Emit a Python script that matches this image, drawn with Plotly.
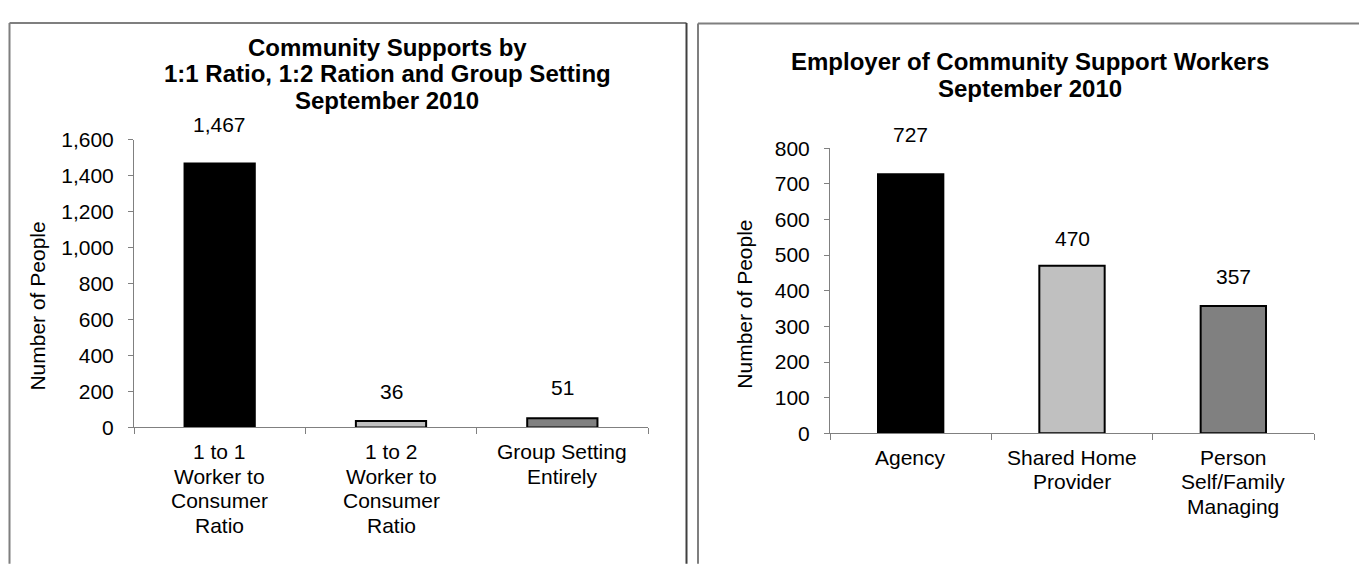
import plotly.graph_objects as go

W, H = 1359, 569

# ---------------- data ----------------
left_categories = ["1 to 1 Worker to Consumer Ratio",
                   "1 to 2 Worker to Consumer Ratio",
                   "Group Setting Entirely"]
left_tick_labels = ["1 to 1<br>Worker to<br>Consumer<br>Ratio",
                    "1 to 2<br>Worker to<br>Consumer<br>Ratio",
                    "Group Setting<br>Entirely"]
left_values = [1467, 36, 51]
left_y_ticks = [0, 200, 400, 600, 800, 1000, 1200, 1400, 1600]

right_categories = ["Agency", "Shared Home Provider", "Person Self/Family Managing"]
right_tick_labels = ["Agency", "Shared Home<br>Provider", "Person<br>Self/Family<br>Managing"]
right_values = [727, 470, 357]
right_y_ticks = [0, 100, 200, 300, 400, 500, 600, 700, 800]

left_title_lines = ["Community Supports by",
                    "1:1 Ratio, 1:2 Ration and Group Setting",
                    "September 2010"]
right_title_lines = ["Employer of Community Support Workers",
                     "September 2010"]
y_title = "Number of People"

# ---------------- styles ----------------
bar_colors = ["#000000", "#C0C0C0", "#808080"]
FONT = "Liberation Sans, Arial, sans-serif"
AXIS_COL = "#808080"
TXT = 21            # regular text size (px)
TITLE = 24          # title size (px)
LINE_H = 24.7       # Excel-like line spacing for category labels
TITLE_LINE_H = 27.6
left_label_gap = [26, 16, 17]
right_label_gap = [26, 14, 16]


def px_x(x):
    return x / W


def px_y(y):
    return 1 - y / H


fig = go.Figure()
fig.add_trace(go.Bar(x=left_categories, y=left_values, width=0.41,
                     marker=dict(color=bar_colors, line=dict(color="#000000", width=2)),
                     xaxis="x", yaxis="y", hoverinfo="x+y"))
fig.add_trace(go.Bar(x=right_categories, y=right_values, width=0.405,
                     marker=dict(color=bar_colors, line=dict(color="#000000", width=2)),
                     xaxis="x2", yaxis="y2", hoverinfo="x+y"))

common_x = dict(type="category", tickson="boundaries", ticks="outside", ticklen=6,
                tickcolor=AXIS_COL, showline=True, linecolor=AXIS_COL, linewidth=1,
                showgrid=False, zeroline=False, range=[-0.5, 2.5], showticklabels=False)
common_y = dict(ticks="outside", ticklen=5, tickcolor=AXIS_COL, showline=True,
                linecolor=AXIS_COL, linewidth=1, showgrid=False, zeroline=False,
                tickformat=",d", ticklabelstandoff=10,
                tickfont=dict(family=FONT, size=TXT, color="#000000"))

fig.update_layout(
    width=W, height=H, autosize=False,
    margin=dict(l=0, r=0, t=0, b=0),
    paper_bgcolor="white", plot_bgcolor="white", showlegend=False,
    font=dict(family=FONT, color="#000000"),
    xaxis=dict(common_x, domain=[px_x(134), px_x(648)], anchor="y",
               categoryorder="array", categoryarray=left_categories),
    yaxis=dict(common_y, domain=[px_y(433), px_y(133)], anchor="x",
               range=[0, left_y_ticks[-1]], tickvals=left_y_ticks),
    xaxis2=dict(common_x, domain=[px_x(830), px_x(1314)], anchor="y2",
                categoryorder="array", categoryarray=right_categories),
    yaxis2=dict(common_y, domain=[px_y(439), px_y(142)], anchor="x2",
                range=[0, right_y_ticks[-1]], tickvals=right_y_ticks),
)

annotations = []
# data labels
for cat, v, g in zip(left_categories, left_values, left_label_gap):
    annotations.append(dict(x=cat, y=v, xref="x", yref="y", text=f"{v:,}", showarrow=False,
                            yanchor="bottom", yshift=g, font=dict(family=FONT, size=TXT)))
for cat, v, g in zip(right_categories, right_values, right_label_gap):
    annotations.append(dict(x=cat, y=v, xref="x2", yref="y2", text=f"{v:,}", showarrow=False,
                            yanchor="bottom", yshift=g, font=dict(family=FONT, size=TXT)))

# category labels (one annotation per line, Excel-like tight line spacing)
for cats, labels, xr, yr in [(left_categories, left_tick_labels, "x", "y"),
                             (right_categories, right_tick_labels, "x2", "y2")]:
    for cat, lab in zip(cats, labels):
        for i, line in enumerate(lab.split("<br>")):
            annotations.append(dict(x=cat, y=0, xref=xr, yref=yr, text=line, showarrow=False,
                                    xanchor="center", yanchor="middle",
                                    yshift=-(24 + LINE_H * i),
                                    font=dict(family=FONT, size=TXT)))

# titles (one annotation per line)
for i, line in enumerate(left_title_lines):
    annotations.append(dict(x=px_x(387), y=px_y(37 + TITLE_LINE_H * i), xref="paper", yref="paper",
                            text=f"<b>{line}</b>", showarrow=False, xanchor="center", yanchor="middle",
                            font=dict(family=FONT, size=TITLE)))
for i, line in enumerate(right_title_lines):
    annotations.append(dict(x=px_x(1030), y=px_y(52 + TITLE_LINE_H * i), xref="paper", yref="paper",
                            text=f"<b>{line}</b>", showarrow=False, xanchor="center", yanchor="middle",
                            font=dict(family=FONT, size=TITLE)))

# y-axis titles
annotations.append(dict(x=px_x(38), y=px_y(307), xref="paper", yref="paper", text=y_title,
                        textangle=-90, showarrow=False, xanchor="center", yanchor="middle",
                        font=dict(family=FONT, size=TXT)))
annotations.append(dict(x=px_x(745), y=px_y(304), xref="paper", yref="paper", text=y_title,
                        textangle=-90, showarrow=False, xanchor="center", yanchor="middle",
                        font=dict(family=FONT, size=TXT)))
fig.update_layout(annotations=annotations)

# panel frames
frame = dict(xref="paper", yref="paper", type="line")
shapes = [
    dict(frame, x0=px_x(9.5), x1=px_x(9.5), y0=px_y(11.5), y1=px_y(575), line=dict(color="#7F7F7F", width=2)),
    dict(frame, x0=px_x(9.5), x1=px_x(686.5), y0=px_y(11.5), y1=px_y(11.5), line=dict(color="#7F7F7F", width=2)),
    dict(frame, x0=px_x(686.5), x1=px_x(686.5), y0=px_y(11.5), y1=px_y(575), line=dict(color="#404040", width=2)),
    dict(frame, x0=px_x(698), x1=px_x(698), y0=px_y(12), y1=px_y(575), line=dict(color="#7F7F7F", width=2)),
    dict(frame, x0=px_x(698), x1=px_x(1365), y0=px_y(12), y1=px_y(12), line=dict(color="#7F7F7F", width=2)),
]
fig.update_layout(shapes=shapes)

# remove the default page margin so the figure fills the window exactly
fig.write_html("out.html", config={"displayModeBar": False},
               post_script="document.body.style.margin='0';document.body.style.overflow='hidden';")
